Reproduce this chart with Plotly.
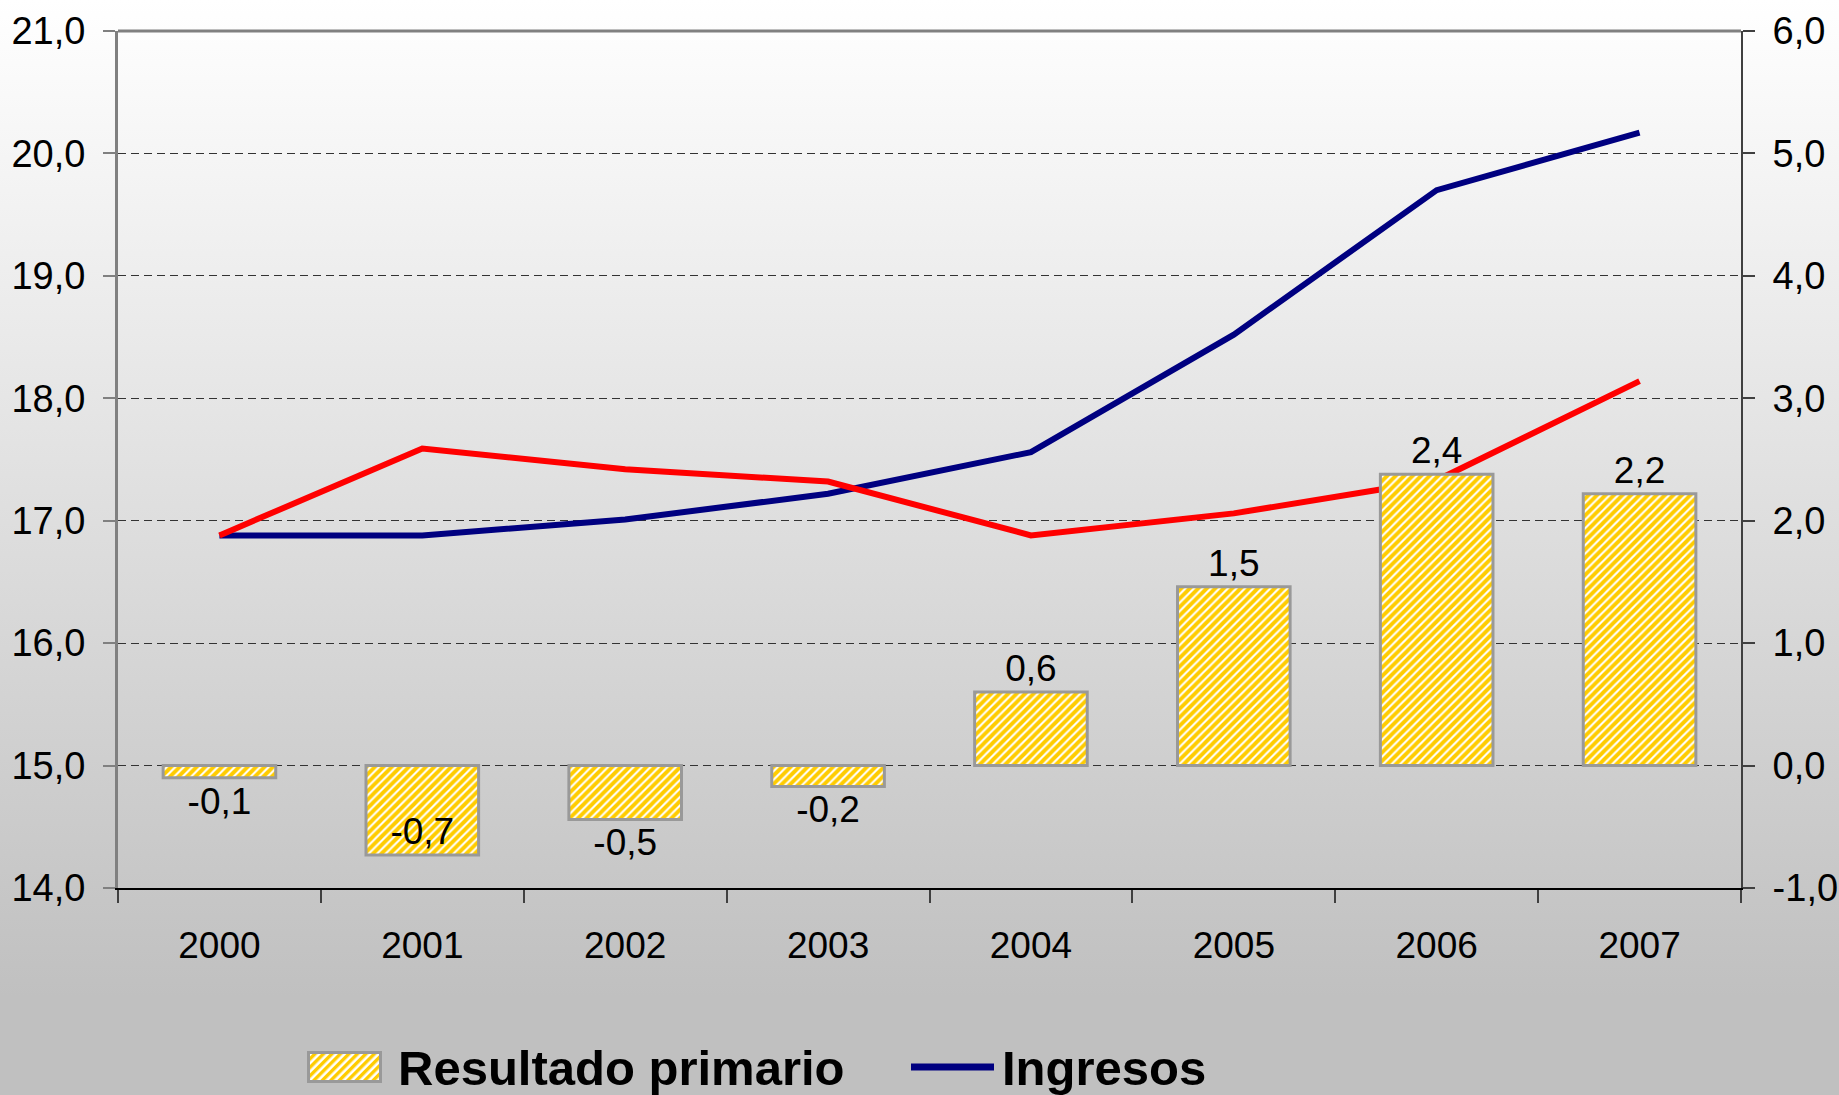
import base64
import plotly.graph_objects as go

years = ['2000', '2001', '2002', '2003', '2004', '2005', '2006', '2007']
resultado = [-0.1, -0.73, -0.44, -0.17, 0.6, 1.46, 2.38, 2.22]
resultado_lbl = ['-0,1', '-0,7', '-0,5', '-0,2', '0,6', '1,5', '2,4', '2,2']
ingresos = [16.88, 16.88, 17.01, 17.22, 17.56, 18.52, 19.70, 20.17]
gastos = [16.88, 17.59, 17.42, 17.32, 16.88, 17.06, 17.33, 18.14]

left_ticks = [14, 15, 16, 17, 18, 19, 20, 21]
right_ticks = [-1, 0, 1, 2, 3, 4, 5, 6]

W, H = 1839, 1095
ml, mr, mt, mb = 118, 98, 31, 207
pw, ph = W - ml - mr, H - mt - mb

FONT = 'Liberation Sans, Arial, sans-serif'


def px(x):
    return (x - ml) / pw


def py(y):
    return (H - mb - y) / ph


def svg_uri(svg):
    return 'data:image/svg+xml;base64,' + base64.b64encode(svg.encode()).decode()


# background gradient for the whole picture
bg_src = svg_uri(
    '<svg xmlns="http://www.w3.org/2000/svg" width="100" height="100" viewBox="0 0 100 100" preserveAspectRatio="none">'
    '<defs><linearGradient id="g" x1="0" y1="0" x2="0" y2="1">'
    '<stop offset="0" stop-color="#ffffff"/><stop offset="0.91" stop-color="#c0c0c0"/>'
    '<stop offset="1" stop-color="#c0c0c0"/></linearGradient></defs>'
    '<rect width="100" height="100" fill="url(#g)"/></svg>')

# hatched swatch for the legend
swatch_src = svg_uri(
    '<svg xmlns="http://www.w3.org/2000/svg" width="75" height="32" viewBox="0 0 75 32" preserveAspectRatio="none">'
    '<defs><pattern id="p" width="6" height="6" patternUnits="userSpaceOnUse" patternTransform="rotate(45)">'
    '<rect width="6" height="6" fill="white"/><rect width="3.4" height="6" fill="#ffcc00"/></pattern></defs>'
    '<rect x="1.5" y="1.5" width="72" height="29" fill="url(#p)" stroke="#999999" stroke-width="3"/></svg>')

fig = go.Figure()

fig.add_trace(go.Bar(
    x=years, y=resultado, name='Resultado primario', yaxis='y2',
    text=resultado_lbl,
    textposition=['outside', 'inside', 'outside', 'outside', 'outside', 'outside', 'outside', 'outside'],
    insidetextanchor='end', cliponaxis=False,
    textfont=dict(size=37, color='black', family=FONT),
    insidetextfont=dict(size=37, color='black', family=FONT),
    outsidetextfont=dict(size=37, color='black', family=FONT),
    marker=dict(color='white', line=dict(color='#999999', width=3),
                pattern=dict(shape='/', fgcolor='#ffcc00', bgcolor='white', fgopacity=1,
                             size=6, solidity=0.65)),
    width=0.555,
))

fig.add_trace(go.Scatter(
    x=years, y=ingresos, name='Ingresos', mode='lines',
    line=dict(color='#000080', width=6),
))

fig.add_trace(go.Scatter(
    x=years, y=gastos, name='Gasto primario', mode='lines',
    line=dict(color='#ff0000', width=6),
))

legend_font = dict(size=49, family=FONT, color='black', weight='bold')

fig.update_layout(
    width=W, height=H,
    margin=dict(l=ml, r=mr, t=mt, b=mb),
    paper_bgcolor='#c0c0c0', plot_bgcolor='rgba(0,0,0,0)',
    font=dict(family=FONT, size=37, color='black'),
    showlegend=False,
    xaxis=dict(type='category', tickson='boundaries', ticks='outside', ticklen=13,
               tickcolor='#404040', tickwidth=2, showline=True, linecolor='black', linewidth=2,
               tickfont=dict(size=37), ticklabelstandoff=24, showgrid=False, automargin=False),
    yaxis=dict(range=[14, 21], tickvals=left_ticks, ticktext=[f'{v},0' for v in left_ticks],
               ticks='outside', ticklen=12, tickcolor='#808080', tickwidth=2,
               showline=True, linecolor='#808080', linewidth=3,
               showgrid=True, gridcolor='#333333', gridwidth=1, griddash='8px,5px',
               zeroline=False, tickfont=dict(size=38), ticklabelstandoff=10, automargin=False),
    yaxis2=dict(range=[-1, 6], tickvals=right_ticks, ticktext=[f'{v},0' for v in right_ticks],
                overlaying='y', side='right', ticks='outside', ticklen=12, tickcolor='#404040', tickwidth=2,
                showline=True, linecolor='#404040', linewidth=2, showgrid=False, zeroline=False,
                tickfont=dict(size=38), ticklabelstandoff=10, automargin=False),
    bargap=0.445,
    images=[
        dict(source=bg_src, xref='paper', yref='paper',
             x=px(0), y=py(0), sizex=W / pw, sizey=H / ph,
             xanchor='left', yanchor='top', sizing='stretch', layer='below'),
        dict(source=swatch_src, xref='paper', yref='paper',
             x=px(307), y=py(1051), sizex=75 / pw, sizey=32 / ph,
             xanchor='left', yanchor='top', sizing='stretch', layer='above'),
    ],
    shapes=[
        dict(type='line', xref='paper', yref='paper', x0=0, x1=1, y0=1, y1=1,
             line=dict(color='#808080', width=3)),
        dict(type='line', xref='paper', yref='paper', x0=px(911), x1=px(994), y0=py(1067), y1=py(1067),
             line=dict(color='#000080', width=7)),
    ],
    annotations=[
        dict(text='Resultado primario', xref='paper', yref='paper', x=px(396), y=py(1068),
             xanchor='left', yanchor='middle', showarrow=False, font=legend_font),
        dict(text='Ingresos', xref='paper', yref='paper', x=px(1000), y=py(1068),
             xanchor='left', yanchor='middle', showarrow=False, font=legend_font),
    ],
)

fig.write_html('out.html', config={'displayModeBar': False},
               post_script="document.body.style.margin='0';")
